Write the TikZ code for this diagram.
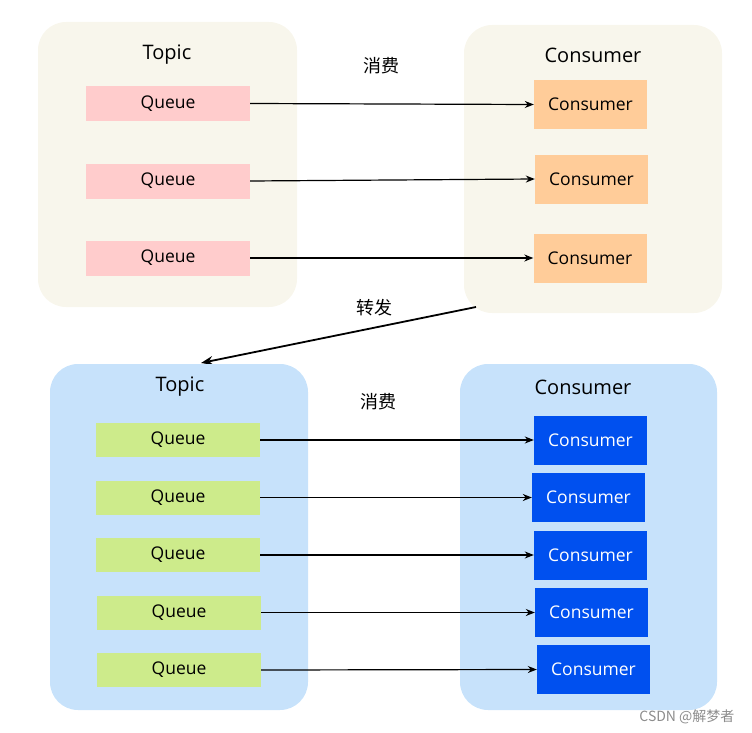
\documentclass[tikz,border=0pt]{standalone}
\usepackage{fontspec}
\setmainfont{Open Sans}
\newfontfamily\cjk{Noto Sans CJK SC}
\usetikzlibrary{arrows.meta}

\definecolor{paper}{HTML}{F8F6EC}
\definecolor{sky}{HTML}{C7E2FB}
\definecolor{rosy}{HTML}{FFCCCC}
\definecolor{apricot}{HTML}{FFCC99}
\definecolor{lime}{HTML}{CDEB8B}
\definecolor{royal}{HTML}{0050EF}

\tikzset{
	panel/.style={rounded corners=28pt},
	title/.style={font=\fontsize{20}{24}\selectfont},
	queuebox/.style={minimum width=164pt, minimum height=35pt, inner sep=0pt, font=\fontsize{17.5}{20}\selectfont},
	consbox/.style={minimum width=113pt, minimum height=49pt, inner sep=0pt, font=\fontsize{17.5}{20}\selectfont},
	flow/.style={-{Stealth[length=9pt,width=7pt]}, line width=1.2pt},
	cn/.style={font=\cjk\fontsize{18}{21}\selectfont}
}

\begin{document}
\begin{tikzpicture}[x=1pt,y=-1pt]
	\useasboundingbox (0,0) rectangle (752,733);
	% upper topic and consumer group
	\fill[paper, panel] (38,22) rectangle (297,307);
	\fill[paper, panel] (464,25) rectangle (722,313);
	\node[title] (topicA) at (167,55) {Topic};
	\node[title] (groupA) at (593,55) {Consumer};
	\foreach \y/\n in {103.5/1,181/2,258/3}{
		\node[queuebox, fill=rosy] (qa\n) at (168,\y) {Queue};
	}
	\foreach \x/\y/\n in {590.5/104.5/1,591.5/179/2,590/258/3}{
		\node[consbox, fill=apricot] (ca\n) at (\x,\y) {Consumer};
	}
	\foreach \n in {1,2,3}{
		\draw[flow] (qa\n.east) -- (ca\n.west);
	}
	\node[cn] (useA) at (381,66) {消费};
	
	% forwarding
	\coordinate (fwdfrom) at (476,307);
	\coordinate (fwdto) at (201,363);
	\draw[-{Stealth[length=12pt,width=9pt]}, line width=1.8pt] (fwdfrom) -- (fwdto);
	\node[cn] (fwd) at (374,308) {转发};
	
	% lower topic and consumer group
	\fill[sky, panel] (50,364) rectangle (308,710);
	\fill[sky, panel] (460,364) rectangle (717,710);
	\node[title] (topicB) at (180,387) {Topic};
	\node[title] (groupB) at (583,387) {Consumer};
	\foreach \x/\y/\n in {178/440/1,178/497.5/2,178/555/3,179/612.5/4,179/670/5}{
		\node[queuebox, fill=lime, minimum height=34pt] (qb\n) at (\x,\y) {Queue};
	}
	\foreach \x/\y/\n in {590.5/440/1,588.5/497.5/2,590.5/555/3,591.5/612.5/4,593.5/669.5/5}{
		\node[consbox, fill=royal, text=white] (cb\n) at (\x,\y) {Consumer};
	}
	\foreach \n in {1,...,5}{
		\draw[flow] (qb\n.east) -- (cb\n.west);
	}
	\node[cn] (useB) at (378,402) {消费};
	
	\node[font=\cjk\fontsize{14}{16}\selectfont, text=black!45, anchor=east] (mark) at (738,717) {CSDN @解梦者};
\end{tikzpicture}
\end{document}
